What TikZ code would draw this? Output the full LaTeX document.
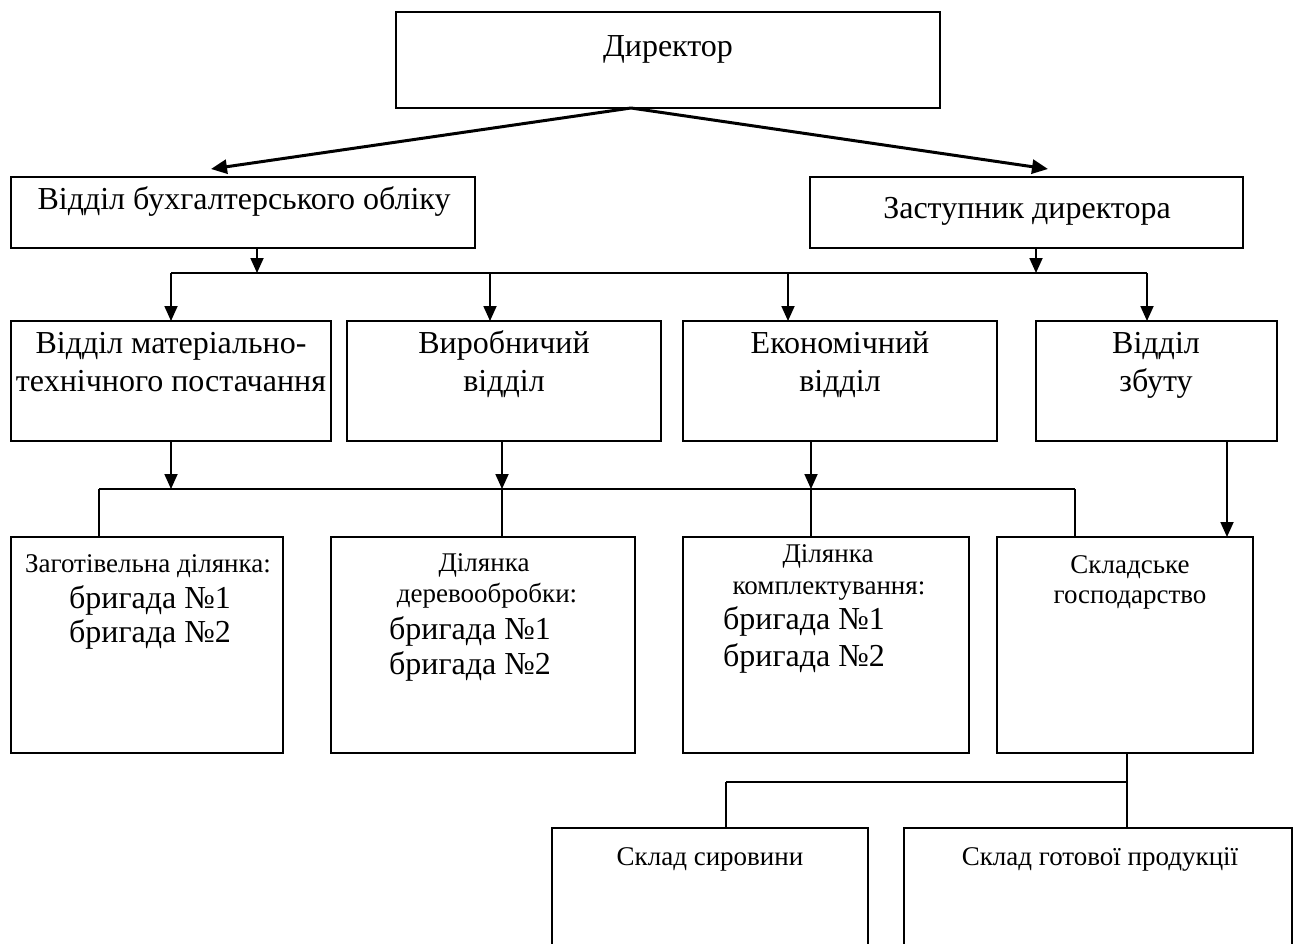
\documentclass[tikz,border=0pt]{standalone}
\usepackage{fontspec}
\setmainfont{Liberation Serif}
\usetikzlibrary{arrows.meta,calc}
\begin{document}
\begin{tikzpicture}[x=1pt,y=-1pt,
  box/.style={draw, line width=1.8pt, anchor=north west, inner sep=0pt, outer sep=0pt},
  big/.style={anchor=base, inner sep=0pt, font=\fontsize{32}{36}\selectfont},
  bigw/.style={anchor=base west, inner sep=0pt, font=\fontsize{32}{36}\selectfont},
  small/.style={anchor=base, inner sep=0pt, font=\fontsize{27}{31}\selectfont},
  arr/.style={line width=1.8pt, -{Triangle[length=15pt,width=13pt]}},
  darr/.style={line width=3pt, -{Triangle[length=16pt,width=14pt]}},
  ln/.style={line width=2pt},
  thin/.style={line width=1.5pt}]
\useasboundingbox (0,0) rectangle (1296,943);
\clip (0,0) rectangle (1296,943);
% boxes
\node[box, minimum width=544pt, minimum height=96pt] (dir) at (396,12) {};
\node[box, minimum width=464pt, minimum height=71pt] (buh) at (11,177) {};
\node[box, minimum width=433pt, minimum height=71pt] (zast) at (810,177) {};
\node[box, minimum width=320pt, minimum height=120pt] (r2a) at (11,321) {};
\node[box, minimum width=314pt, minimum height=120pt] (r2b) at (347,321) {};
\node[box, minimum width=314pt, minimum height=120pt] (r2c) at (683,321) {};
\node[box, minimum width=241pt, minimum height=120pt] (r2d) at (1036,321) {};
\node[box, minimum width=272pt, minimum height=216pt] (r3a) at (11,537) {};
\node[box, minimum width=304pt, minimum height=216pt] (r3b) at (331,537) {};
\node[box, minimum width=286pt, minimum height=216pt] (r3c) at (683,537) {};
\node[box, minimum width=256pt, minimum height=216pt] (r3d) at (997,537) {};
\node[box, minimum width=316pt, minimum height=200pt] (r4a) at (552,828) {};
\node[box, minimum width=388pt, minimum height=200pt] (r4b) at (904,828) {};
% texts
\node[big] (tdir) at (668,56) {Директор};
\node[big] (tbuh) at (244,209) {Відділ бухгалтерського обліку};
\node[big] (tzast) at (1027,218) {Заступник директора};
\node[big] (ta1) at (171,353) {Відділ матеріально-};
\node[big] (ta2) at (171,391) {технічного постачання};
\node[big] (tb1) at (504,353) {Виробничий};
\node[big] (tb2) at (504,391) {відділ};
\node[big] (tc1) at (840,353) {Економічний};
\node[big] (tc2) at (840,391) {відділ};
\node[big] (td1) at (1156,353) {Відділ};
\node[big] (td2) at (1156,391) {збуту};
\node[small] (sa1) at (148,572) {Заготівельна ділянка:};
\node[big] (sa2) at (150,608) {бригада №1};
\node[big] (sa3) at (150,642) {бригада №2};
\node[small] (sb1) at (484,571) {Ділянка};
\node[small] (sb2) at (487,602) {деревообробки:};
\node[bigw] (sb3) at (389,639) {бригада №1};
\node[bigw] (sb4) at (389,674) {бригада №2};
\node[small] (sc1) at (828,562) {Ділянка};
\node[small] (sc2) at (829,594) {комплектування:};
\node[bigw] (sc3) at (723,629) {бригада №1};
\node[bigw] (sc4) at (723,666) {бригада №2};
\node[small] (sd1) at (1130,573) {Складське};
\node[small] (sd2) at (1130,603) {господарство};
\node[small] (t4a) at (710,865) {Склад сировини};
\node[small] (t4b) at (1100,865) {Склад готової продукції};
% junction coordinates
\coordinate (dsrc) at (631,108);
\coordinate (tipL) at (211,169);
\coordinate (tipR) at (1048,169);
\coordinate (jb) at (257,273);
\coordinate (jz) at (1036,273);
\coordinate (j1) at (171,273);
\coordinate (j2) at (490,273);
\coordinate (j3) at (788,273);
\coordinate (j4) at (1147,273);
\coordinate (k1) at (171,489);
\coordinate (k2) at (502,489);
\coordinate (k3) at (811,489);
\coordinate (kl) at (99,489);
\coordinate (kr) at (1075,489);
\coordinate (sx) at (1227,489);
\coordinate (nx) at (1127,782);
\coordinate (nl) at (726,782);
% connectors
\draw[darr] (dsrc) -- (tipL);
\draw[darr] (dsrc) -- (tipR);
\draw[arr] (buh.south -| jb) -- (jb);
\draw[arr] (zast.south -| jz) -- (jz);
\draw[ln] (j1) -- (j4);
\draw[arr] (j1) -- (r2a.north -| j1);
\draw[arr] (j2) -- (r2b.north -| j2);
\draw[arr] (j3) -- (r2c.north -| j3);
\draw[arr] (j4) -- (r2d.north -| j4);
\draw[arr] (r2a.south -| k1) -- (k1);
\draw[arr] (r2b.south -| k2) -- (k2);
\draw[arr] (r2c.south -| k3) -- (k3);
\draw[thin] (kl) -- (kr);
\draw[thin] (kl) -- (r3a.north -| kl);
\draw[thin] (k2) -- (r3b.north -| k2);
\draw[thin] (k3) -- (r3c.north -| k3);
\draw[thin] (kr) -- (r3d.north -| kr);
\draw[arr] (r2d.south -| sx) -- (r3d.north -| sx);
\draw[thin] (r3d.south -| nx) -- (nx);
\draw[thin] (nx) -- (nl);
\draw[thin] (nx) -- (r4b.north -| nx);
\draw[thin] (nl) -- (r4a.north -| nl);
\end{tikzpicture}
\end{document}
